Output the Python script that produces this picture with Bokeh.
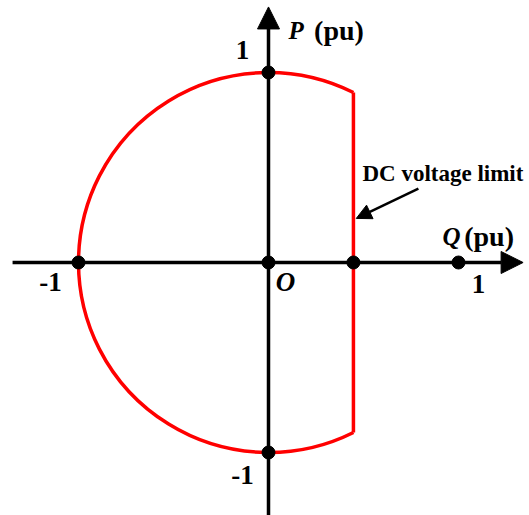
import numpy as np
from bokeh.plotting import figure
from bokeh.models import Arrow, NormalHead, Range1d
from bokeh.core.properties import value
from bokeh.embed import file_html
from bokeh.resources import INLINE

# P-Q capability of the converter, in per unit
current_limit = 1.0          # radius of the current-limit circle
q_dc_limit = 0.447           # reactive power cap set by the DC voltage
marked_q = [0.0, 0.0, -1.0, 0.0, q_dc_limit, 1.0]
marked_p = [1.0, -1.0, 0.0, 0.0, 0.0, 0.0]
tick_labels = ["1", "1", "-1", "-1"]
origin_label = "O"
limit_label = "DC voltage limit"

SERIF = value("Liberation Serif")

p = figure(width=529, height=515, output_backend="svg", toolbar_location=None,
           x_range=Range1d(-268 / 190, 261 / 190), y_range=Range1d(-253 / 190, 262 / 190),
           min_border=0, outline_line_color=None)
p.xaxis.visible = False
p.yaxis.visible = False
p.grid.visible = False

# capability boundary: current-limit arc closed by the DC voltage limit
theta = np.arccos(q_dc_limit / current_limit)
p.arc(x=0, y=0, radius=current_limit, start_angle=theta, end_angle=2 * np.pi - theta,
      direction="anticlock", line_color="#ff0000", line_width=3.5)
p_edge = current_limit * np.sin(theta)
p.segment(x0=[q_dc_limit], y0=[-p_edge], x1=[q_dc_limit], y1=[p_edge],
          line_color="#ff0000", line_width=3.5)

# Q and P axes with arrow heads
p.add_layout(Arrow(x_start=-1.347, y_start=0, x_end=1.34, y_end=0, line_width=3.5,
                   line_color="black",
                   end=NormalHead(size=22, fill_color="black", line_color="black", line_width=1)))
p.add_layout(Arrow(x_start=0, y_start=-1.33, x_end=0, y_end=1.345, line_width=3.5,
                   line_color="black",
                   end=NormalHead(size=22, fill_color="black", line_color="black", line_width=1)))

p.scatter(marked_q, marked_p, size=13, color="black")

# pointer to the DC voltage limit
p.add_layout(Arrow(x_start=0.789, y_start=0.389, x_end=0.462, y_end=0.232, line_width=2.5,
                   line_color="black",
                   end=NormalHead(size=15, fill_color="black", line_color="black", line_width=1)))

common = dict(text_font=SERIF, text_color="black", text_baseline="middle")
p.text(x=[-0.137, 1.105, -1.147, -0.137], y=[1.116, -0.111, -0.105, -1.121],
       text=tick_labels, text_font_style="bold", text_align="center",
       text_font_size="27px", **common)
p.text(x=[0.089], y=[-0.105], text=[origin_label], text_font_style="bold italic",
       text_align="center", text_font_size="27px", **common)
p.text(x=[0.105, 0.916], y=[1.221, 0.137], text=["P", "Q"], text_font_style="bold italic",
       text_align="left", text_font_size="25px", **common)
p.text(x=[0.24, 1.03], y=[1.221, 0.137], text=["(pu)", "(pu)"], text_font_style="bold",
       text_align="left", text_font_size="28px", **common)
p.text(x=[0.918], y=[0.468], text=[limit_label], text_font_style="bold",
       text_align="center", text_font_size="23px", **common)

open("out.html", "w").write(file_html(p, INLINE))
